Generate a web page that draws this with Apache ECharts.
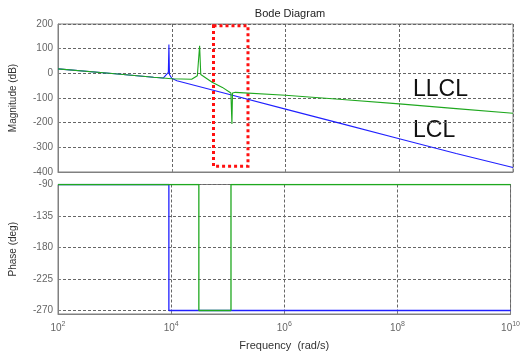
<!DOCTYPE html>
<html>
<head>
<meta charset="utf-8">
<script src="https://cdn.jsdelivr.net/npm/echarts@6/dist/echarts.min.js"></script>
<style>
  html, body { margin: 0; padding: 0; background: #fff; }
  #main { width: 523px; height: 353px; }
</style>
</head>
<body>
<div id="main"></div>
<script>
// magnitude, LCL filter (blue)
const lclMagFreq = [100, 1000, 4786, 7079, 8710, 8913, 9120, 10000, 12300, 1e5, 1e6, 1e7, 1e8, 1e9, 1e10];
const lclMag     = [18, -2, -16, -19, 4, 117, -5, -20, -30, -85, -145, -205, -265, -325, -382];

// magnitude, LLCL filter (green)
const llclMagFreq = [100, 1000, 4786, 10000, 22390, 28180, 29510, 30900, 32360, 33880, 51290, 77620,
                     109600, 112200, 114300, 117000, 131800, 1e6, 1e7, 1e8, 1e9, 1e10];
const llclMag     = [18, -2, -16, -22, -24, -10, -3, 112, -5, -12, -36, -57,
                     -80, -86, -205, -80, -77, -89, -106, -124, -143, -162];

// phase
const lclPhaseFreq = [100, 9120, 9120, 1e10];
const lclPhase     = [-90, -90, -270, -270];
const llclPhaseFreq = [100, 30900, 30900, 114300, 114300, 1e10];
const llclPhase     = [-90, -90, -270, -270, -90, -90];

// red dotted box around the notch
const boxFreq = [54200, 219000];
const boxMag = [193, -377];

const phaseTicks = [-270, -225, -180, -135, -90];

const BLUE = '#2020ff';
const GREEN = '#1fa81f';
const FONT = 'Liberation Sans';

function pairs(xs, ys) {
  return xs.map((x, i) => [x, ys[i]]);
}

let chartDom = document.getElementById('main');
let myChart = echarts.init(chartDom);

const gridLine = { show: true, lineStyle: { color: '#666', type: [3, 2], width: 1 } };
const frameLine = { show: true, onZero: false, lineStyle: { color: '#808080', width: 1 } };

function freqAxis(idx, withLabels) {
  return {
    type: 'log',
    logBase: 10,
    gridIndex: idx,
    min: 100,
    max: 1e10,
    interval: 2,
    axisLine: frameLine,
    axisTick: { show: true, inside: true, length: 3, lineStyle: { color: '#808080' } },
    splitLine: gridLine,
    axisLabel: withLabels ? {
      show: true,
      margin: 7,
      color: '#666',
      fontFamily: FONT,
      fontSize: 10,
      formatter: function (v) {
        return '{b|10}{s|' + Math.round(Math.log10(v)) + '}';
      },
      rich: {
        b: { fontSize: 10, color: '#666', fontFamily: FONT },
        s: { fontSize: 7, color: '#666', fontFamily: FONT, padding: [0, 0, 7, 0] }
      }
    } : { show: false },
    name: withLabels ? 'Frequency  (rad/s)' : '',
    nameLocation: 'middle',
    nameGap: 26,
    nameTextStyle: { color: '#333', fontFamily: FONT, fontSize: 11 }
  };
}

let option = {
  backgroundColor: '#fff',
  animation: false,
  title: {
    text: 'Bode Diagram',
    left: 285,
    top: 3,
    textAlign: 'center',
    textStyle: { color: '#222', fontFamily: FONT, fontSize: 11, fontWeight: 'normal' }
  },
  grid: [
    { left: 58, top: 24, right: 10, height: 148, show: true, borderColor: '#808080', borderWidth: 1, backgroundColor: 'transparent' },
    { left: 58, top: 184.5, right: 10, height: 129.5, show: true, borderColor: '#808080', borderWidth: 1, backgroundColor: 'transparent' }
  ],
  xAxis: [freqAxis(0, false), freqAxis(1, true)],
  yAxis: [
    {
      type: 'value',
      gridIndex: 0,
      min: -400,
      max: 200,
      interval: 100,
      axisLine: frameLine,
      axisTick: { show: true, inside: true, length: 3, lineStyle: { color: '#808080' } },
      splitLine: gridLine,
      axisLabel: { color: '#666', fontFamily: FONT, fontSize: 10, margin: 5 },
      name: 'Magnitude (dB)',
      nameLocation: 'middle',
      nameGap: 40,
      nameTextStyle: { color: '#333', fontFamily: FONT, fontSize: 10 }
    },
    {
      type: 'value',
      gridIndex: 1,
      min: -275,
      max: -90,
      axisLine: frameLine,
      axisTick: { show: true, inside: true, length: 3, customValues: phaseTicks, lineStyle: { color: '#808080' } },
      splitLine: gridLine,
      axisLabel: { color: '#666', fontFamily: FONT, fontSize: 10, margin: 5, customValues: phaseTicks },
      name: 'Phase (deg)',
      nameLocation: 'middle',
      nameGap: 40,
      nameTextStyle: { color: '#333', fontFamily: FONT, fontSize: 10 }
    }
  ],
  series: [
    {
      name: 'LCL',
      type: 'line',
      xAxisIndex: 0, yAxisIndex: 0,
      symbol: 'none',
      lineStyle: { color: BLUE, width: 1.1 },
      data: pairs(lclMagFreq, lclMag)
    },
    {
      name: 'LLCL',
      type: 'line',
      xAxisIndex: 0, yAxisIndex: 0,
      symbol: 'none',
      lineStyle: { color: GREEN, width: 1.1 },
      data: pairs(llclMagFreq, llclMag),
      markArea: {
        silent: true,
        itemStyle: { color: 'rgba(0,0,0,0)', borderColor: '#ff1010', borderWidth: 3, borderType: 'dotted' },
        data: [[{ coord: [boxFreq[0], boxMag[0]] }, { coord: [boxFreq[1], boxMag[1]] }]]
      }
    },
    {
      name: 'LCL phase',
      type: 'line',
      xAxisIndex: 1, yAxisIndex: 1,
      symbol: 'none',
      lineStyle: { color: BLUE, width: 1.3 },
      data: pairs(lclPhaseFreq, lclPhase)
    },
    {
      name: 'LLCL phase',
      type: 'line',
      xAxisIndex: 1, yAxisIndex: 1,
      symbol: 'none',
      lineStyle: { color: GREEN, width: 1.3 },
      data: pairs(llclPhaseFreq, llclPhase)
    }
  ],
  graphic: [
    { type: 'text', x: 413, y: 90, style: { text: 'LLCL', fill: '#111', font: '23px "Liberation Sans"', verticalAlign: 'middle' } },
    { type: 'text', x: 413, y: 131, style: { text: 'LCL', fill: '#111', font: '23px "Liberation Sans"', verticalAlign: 'middle' } }
  ]
};

option && myChart.setOption(option);
</script>
</body>
</html>
